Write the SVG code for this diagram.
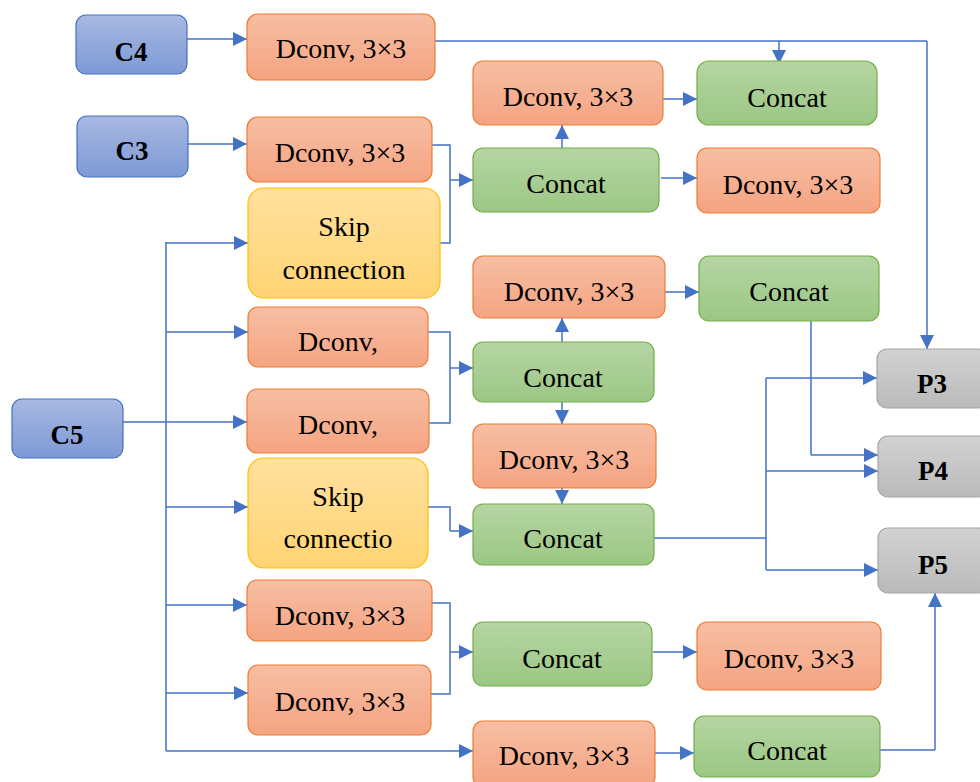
<svg xmlns="http://www.w3.org/2000/svg" width="980" height="782" viewBox="0 0 980 782">
<defs>
<linearGradient id="gB" x1="0" y1="0" x2="0" y2="1"><stop offset="0" stop-color="#a8b8e2"/><stop offset="1" stop-color="#7d99d5"/></linearGradient>
<linearGradient id="gO" x1="0" y1="0" x2="0" y2="1"><stop offset="0" stop-color="#f7bea3"/><stop offset="1" stop-color="#f4a482"/></linearGradient>
<linearGradient id="gY" x1="0" y1="0" x2="0" y2="1"><stop offset="0" stop-color="#ffe09d"/><stop offset="1" stop-color="#ffd474"/></linearGradient>
<linearGradient id="gG" x1="0" y1="0" x2="0" y2="1"><stop offset="0" stop-color="#b5d5a3"/><stop offset="1" stop-color="#9bc784"/></linearGradient>
<linearGradient id="gP" x1="0" y1="0" x2="0" y2="1"><stop offset="0" stop-color="#d2d2d2"/><stop offset="1" stop-color="#bababa"/></linearGradient>
<marker id="ah" markerUnits="userSpaceOnUse" markerWidth="14" markerHeight="14" refX="14" refY="7" orient="auto"><path d="M0,0 L14,7 L0,14 z" fill="#4472c4"/></marker>
</defs>
<style>
.b{fill:url(#gB);stroke:#4472c4;stroke-width:1.2}
.o{fill:url(#gO);stroke:#ed7d31;stroke-width:1.2}
.y{fill:url(#gY);stroke:#ffc000;stroke-width:1.2}
.g{fill:url(#gG);stroke:#70ad47;stroke-width:1.2}
.p{fill:url(#gP);stroke:#a5a5a5;stroke-width:1.2}
text{font-family:"Liberation Serif","DejaVu Serif",serif;font-size:28px;fill:#000;text-anchor:middle}
.bt{font-weight:bold;font-size:27px}
.c path{fill:none;stroke:#4472c4;stroke-width:1.5}
.c path.a{marker-end:url(#ah)}
</style>
<g class="c" id="connectors">
<path class="a" d="M187,39 H247"/>
<path class="a" d="M188,144 H247"/>
<path d="M428,41 H927"/>
<path class="a" d="M927,41 V349"/>
<path class="a" d="M779,41 V64"/>
<path d="M428,145 H450 V243 H427"/>
<path class="a" d="M450,180 H473"/>
<path class="a" d="M562,148 V125"/>
<path class="a" d="M659,99 H697"/>
<path class="a" d="M661,178 H697"/>
<path d="M123,422 H166 M166,242 V751"/>
<path class="a" d="M166,243 H248"/>
<path class="a" d="M166,332 H248"/>
<path class="a" d="M166,422 H247"/>
<path class="a" d="M166,507 H248"/>
<path class="a" d="M166,605 H247"/>
<path class="a" d="M166,693 H248"/>
<path class="a" d="M166,751 H473"/>
<path d="M428,332 H450 V423 H427"/>
<path class="a" d="M450,368 H473"/>
<path class="a" d="M562,342 V318"/>
<path class="a" d="M665,292 H699"/>
<path class="a" d="M562,402 V424"/>
<path class="a" d="M562,488 V504"/>
<path d="M428,507 H450 V531"/>
<path class="a" d="M450,531 H473"/>
<path d="M743,320 H811 V455"/>
<path class="a" d="M811,455 H878"/>
<path d="M654,538 H766 M766,378 V570"/>
<path class="a" d="M766,378 H877"/>
<path class="a" d="M766,471 H878"/>
<path class="a" d="M766,570 H878"/>
<path d="M428,603 H450 V694 H428"/>
<path class="a" d="M450,652 H473"/>
<path class="a" d="M653,652 H697"/>
<path class="a" d="M653,753 H694"/>
<path d="M876,750 H935"/>
<path class="a" d="M935,750 V593"/>
</g>
<g id="C4"><rect class="b" x="76" y="15" width="111" height="59" rx="10"/><text class="bt" x="131" y="61">C4</text></g>
<g id="C3"><rect class="b" x="77" y="116" width="111" height="61" rx="10"/><text class="bt" x="132" y="160">C3</text></g>
<g id="C5"><rect class="b" x="12" y="399" width="111" height="59" rx="10"/><text class="bt" x="67" y="444">C5</text></g>
<g id="D1"><rect class="o" x="247" y="14" width="188" height="66" rx="11"/><text x="341" y="58">Dconv, 3×3</text></g>
<g id="D2"><rect class="o" x="247" y="117" width="185" height="65" rx="11"/><text x="340" y="162">Dconv, 3×3</text></g>
<g id="S1"><rect class="y" x="248" y="188" width="192" height="110" rx="16"/><text x="344" y="236">Skip</text><text x="344" y="279">connection</text></g>
<g id="D3"><rect class="o" x="248" y="307" width="180" height="60" rx="10"/><text x="338" y="351">Dconv,</text></g>
<g id="D4"><rect class="o" x="247" y="389" width="182" height="64" rx="10"/><text x="338" y="434">Dconv,</text></g>
<g id="S2"><rect class="y" x="248" y="458" width="180" height="110" rx="16"/><text x="338" y="506">Skip</text><text x="338" y="548">connectio</text></g>
<g id="D5"><rect class="o" x="247" y="580" width="185" height="61" rx="10"/><text x="340" y="625">Dconv, 3×3</text></g>
<g id="D6"><rect class="o" x="248" y="665" width="183" height="70" rx="10"/><text x="340" y="711">Dconv, 3×3</text></g>
<g id="Dm1"><rect class="o" x="473" y="61" width="190" height="64" rx="10"/><text x="568" y="106">Dconv, 3×3</text></g>
<g id="G1"><rect class="g" x="697" y="61" width="180" height="64" rx="12"/><text x="787" y="107">Concat</text></g>
<g id="G2"><rect class="g" x="473" y="148" width="186" height="64" rx="10"/><text x="566" y="193">Concat</text></g>
<g id="Dr1"><rect class="o" x="697" y="148" width="183" height="65" rx="10"/><text x="788" y="194">Dconv, 3×3</text></g>
<g id="Dm2"><rect class="o" x="473" y="256" width="192" height="62" rx="10"/><text x="569" y="301">Dconv, 3×3</text></g>
<g id="G3"><rect class="g" x="699" y="256" width="180" height="65" rx="10"/><text x="789" y="301">Concat</text></g>
<g id="G4"><rect class="g" x="473" y="342" width="181" height="60" rx="10"/><text x="563" y="387">Concat</text></g>
<g id="Dm3"><rect class="o" x="473" y="424" width="183" height="64" rx="10"/><text x="564" y="469">Dconv, 3×3</text></g>
<g id="G5"><rect class="g" x="473" y="504" width="181" height="61" rx="10"/><text x="563" y="548">Concat</text></g>
<g id="G6"><rect class="g" x="473" y="622" width="179" height="64" rx="10"/><text x="562" y="668">Concat</text></g>
<g id="D7"><rect class="o" x="697" y="622" width="184" height="68" rx="10"/><text x="789" y="668">Dconv, 3×3</text></g>
<g id="D8"><rect class="o" x="473" y="721" width="182" height="66" rx="10"/><text x="564" y="765">Dconv, 3×3</text></g>
<g id="G7"><rect class="g" x="694" y="716" width="186" height="61" rx="10"/><text x="787" y="760">Concat</text></g>
<g id="P3"><rect class="p" x="877" y="349" width="110" height="59" rx="10"/><text class="bt" x="932" y="393">P3</text></g>
<g id="P4"><rect class="p" x="878" y="436" width="110" height="61" rx="10"/><text class="bt" x="933" y="480">P4</text></g>
<g id="P5"><rect class="p" x="878" y="528" width="110" height="65" rx="10"/><text class="bt" x="933" y="574">P5</text></g>
</svg>
